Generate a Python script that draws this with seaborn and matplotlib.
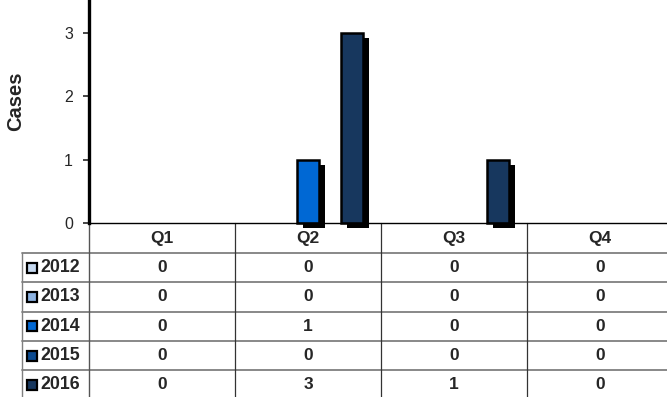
"""Quarterly cases by year: clustered bar chart with an Excel-style data table."""

import matplotlib.pyplot as plt
import matplotlib.patheffects as pe
import seaborn as sns
import pandas as pd

quarters = ["Q1", "Q2", "Q3", "Q4"]
years = ["2012", "2013", "2014", "2015", "2016"]
cases_2012 = [0, 0, 0, 0]
cases_2013 = [0, 0, 0, 0]
cases_2014 = [0, 1, 0, 0]
cases_2015 = [0, 0, 0, 0]
cases_2016 = [0, 3, 1, 0]
year_colors = ["#C6D9F0", "#8DB3E2", "#0068D4", "#0B4A90", "#17375E"]

series = [cases_2012, cases_2013, cases_2014, cases_2015, cases_2016]
df = pd.DataFrame(
    [(q, y, v) for y, vals in zip(years, series) for q, v in zip(quarters, vals)],
    columns=["quarter", "year", "cases"],
)

sns.set_style("white")
plt.rcParams["font.family"] = ["Liberation Sans", "DejaVu Sans"]

fig = plt.figure(figsize=(6.67, 3.97), dpi=100)
ax = fig.add_axes([89 / 667, 174 / 397, 584 / 667, 223 / 397])

sns.barplot(
    data=df, x="quarter", y="cases", hue="year", order=quarters, hue_order=years,
    palette=year_colors, saturation=1, width=0.75, edgecolor="black", linewidth=1.8,
    legend=False, ax=ax,
)

shadow = [pe.SimplePatchShadow(offset=(4.3, -3.5), shadow_rgbFace="black", alpha=1.0), pe.Normal()]
for bar in ax.patches:
    if bar.get_height() == 0:
        bar.set_visible(False)
    else:
        bar.set_path_effects(shadow)
        bar.set_clip_on(False)

ax.set_xlim(-0.5, 3.5)
ax.set_ylim(0, 3.52)
ax.set_yticks([0, 1, 2, 3])
ax.set_xticks([])
ax.set_xlabel("")
ax.set_ylabel("")
ax.tick_params(axis="y", length=4.5, width=1.2, pad=7, labelsize=11.5, left=True)
for side in ["top", "right"]:
    ax.spines[side].set_visible(False)
ax.spines["left"].set_linewidth(2.4)
ax.spines["bottom"].set_linewidth(1.0)
ax.spines["left"].set_color("black")
ax.spines["bottom"].set_color("black")
ax.spines["left"].set_zorder(5)

fig.text(16 / 667, 1 - 101 / 397, "Cases", rotation=90, ha="center", va="center",
         fontsize=14.5, fontweight="bold")

# data table under the plot, columns follow the category axis
tr = ax.get_xaxis_transform()
row_h = 29.3 / 223
head_h = 30 / 223
left_x = -0.959
bottom_y = -0.8

for i, q in enumerate(quarters):
    ax.text(i, -head_h / 2, q, transform=tr, ha="center", va="center",
            fontsize=12.5, fontweight="bold", clip_on=False)

for r, (year, vals) in enumerate(zip(years, series)):
    yc = -head_h - row_h * (r + 0.5)
    ax.plot([-0.89], [yc], marker="s", markersize=6.5, mfc=year_colors[r], mec="black",
            mew=1.6, transform=tr, clip_on=False)
    ax.text(-0.836, yc, year, transform=tr, ha="left", va="center",
            fontsize=12.8, fontweight="bold", clip_on=False)
    for i, v in enumerate(vals):
        ax.text(i, yc, str(v), transform=tr, ha="center", va="center",
                fontsize=12.5, fontweight="bold", clip_on=False)
    ytop = -head_h - row_h * r
    ax.plot([left_x, 3.6], [ytop, ytop], color="#7F7F7F", lw=1.3, transform=tr, clip_on=False)

for xb in [0.5, 1.5, 2.5]:
    ax.plot([xb, xb], [0, bottom_y], color="#333333", lw=0.9, transform=tr, clip_on=False)
ax.plot([-0.5, -0.5], [0, bottom_y], color="#555555", lw=1.0, transform=tr, clip_on=False)
ax.plot([left_x, left_x], [-head_h, bottom_y], color="#7F7F7F", lw=1.0, transform=tr, clip_on=False)

fig.savefig("out.png", dpi=100)
plt.close()
